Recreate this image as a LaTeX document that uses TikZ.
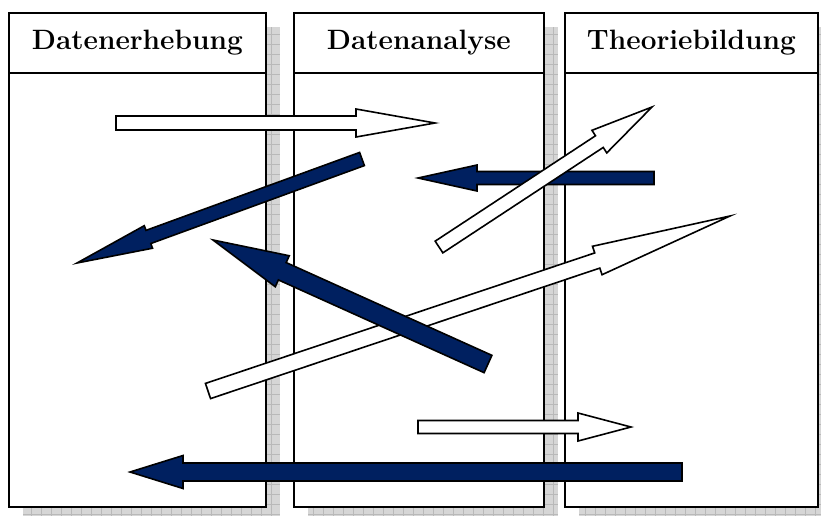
\documentclass[tikz,border=0pt]{standalone}
\usepackage{tikz}
\usetikzlibrary{calc}

\definecolor{navy}{RGB}{0,32,96}

% block arrow: style, tail, tip, half shaft width, half head width, head length
\newcommand{\blockarrow}[6]{%
    \coordinate (#3-base) at ($(#3)!#6!(#2)$);
    \draw[#1] ($(#2)!#4!90:(#3)$) -- ($(#3-base)!#4!90:(#3)$) -- ($(#3-base)!#5!90:(#3)$)
        -- (#3) -- ($(#3-base)!#5!-90:(#3)$) -- ($(#3-base)!#4!-90:(#3)$)
        -- ($(#2)!#4!-90:(#3)$) -- cycle;
}

\begin{document}
\begin{tikzpicture}[x=1pt, y=-1pt,
                column/.style={rectangle, draw, line width=1.8pt, fill=white, anchor=north west, minimum width=#1, minimum height=494pt, inner sep=0pt},
                shadow/.style={rectangle, fill=gray!32, anchor=north west, minimum width=#1, minimum height=494pt, inner sep=0pt,
                    path picture={\draw[gray!55, line width=0.5pt] (path picture bounding box.south west) grid[step=10pt] (path picture bounding box.north east);}},
                head/.style={rectangle, draw, line width=1.8pt, anchor=north west, minimum width=#1, minimum height=60pt, inner sep=0pt, font=\fontsize{28}{32}\selectfont\bfseries},
                hollow/.style={draw, line width=1.6pt, fill=white, line join=miter},
                solid/.style={draw, line width=1.6pt, fill=navy, line join=miter}
            ]
                \useasboundingbox (0,0) rectangle (821,515);

                \node[shadow=257pt] (erhebungschatten) at (23,27) {};
                \node[shadow=250pt] (analyseschatten) at (308,27) {};
                \node[shadow=253pt] (theorieschatten) at (579,27) {};

                \node[column=257pt] (erhebung) at (8,12) {};
                \node[column=250pt] (analyse) at (293,12) {};
                \node[column=253pt] (theorie) at (564,12) {};

                \node[head=257pt] (erhebungkopf) at (erhebung.north west) {Datenerhebung};
                \node[head=250pt] (analysekopf) at (analyse.north west) {Datenanalyse};
                \node[head=253pt] (theoriekopf) at (theorie.north west) {Theoriebildung};

                \coordinate (a1) at (116,123); \coordinate (b1) at (435,123);
                \coordinate (a2) at (362,159); \coordinate (b2) at (77,263);
                \coordinate (a3) at (488,364); \coordinate (b3) at (213,240);
                \coordinate (a4) at (654,178); \coordinate (b4) at (418,178);
                \coordinate (a5) at (439,247); \coordinate (b5) at (652,107);
                \coordinate (a6) at (208,391); \coordinate (b6) at (730,216);
                \coordinate (a7) at (418,427); \coordinate (b7) at (631,427);
                \coordinate (a8) at (682,472); \coordinate (b8) at (130,472);

                \blockarrow{hollow}{a6}{b6}{8pt}{15pt}{140pt}
                \blockarrow{solid}{a3}{b3}{9.5pt}{17pt}{76pt}
                \blockarrow{solid}{a4}{b4}{6.5pt}{13pt}{59pt}
                \blockarrow{hollow}{a5}{b5}{7pt}{13.5pt}{63pt}
                \blockarrow{hollow}{a1}{b1}{7pt}{14pt}{79pt}
                \blockarrow{solid}{a2}{b2}{7pt}{12pt}{76pt}
                \blockarrow{hollow}{a7}{b7}{6.5pt}{14pt}{53pt}
                \blockarrow{solid}{a8}{b8}{9pt}{16.5pt}{53pt}
            \end{tikzpicture}
\end{document}
